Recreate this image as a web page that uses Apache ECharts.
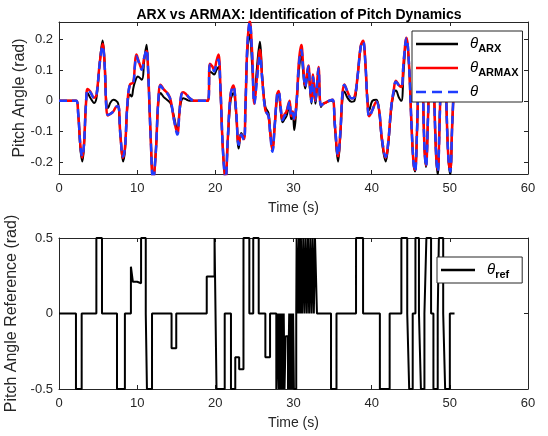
<!DOCTYPE html>
<html>
<head>
<meta charset="utf-8">
<script src="https://cdn.jsdelivr.net/npm/echarts@6/dist/echarts.min.js"></script>
<style>
    html, body { margin: 0; padding: 0; background: #fff; }
    #chart { width: 548px; height: 436px; }
</style>
</head>
<body>
<div id="chart"></div>
<script>
(function () {
    'use strict';

    // x ticks shared by both panels
    var timeTicks = [0, 10, 20, 30, 40, 50, 60];

    // measured pitch angle theta [t (s), rad]
    var theta = [
        [0, 0], [2.2, 0], [2.45, -0.04], [2.75, -0.15], [2.98, -0.181], [3.2, -0.14], [3.45, -0.01],
        [3.66, 0.036], [4.0, 0.028], [4.5, 0.009], [4.8, 0.02], [5.2, 0.12], [5.58, 0.178], [5.85, 0.11],
        [6.05, -0.02], [6.25, -0.046], [6.6, -0.042], [6.94, -0.035], [7.3, -0.02], [7.58, -0.018],
        [7.85, -0.11], [8.2, -0.181], [8.45, -0.15], [8.75, -0.01], [9.07, 0.052], [9.5, 0.058],
        [9.7, 0.11], [9.9, 0.145], [10.2, 0.125], [10.6, 0.101], [10.9, 0.14], [11.2, 0.166], [11.4, 0.1],
        [11.7, -0.1], [12.05, -0.26], [12.4, -0.16], [12.7, 0.0], [13.0, 0.05], [13.4, 0.035],
        [13.96, 0.02], [14.3, 0.0], [14.7, -0.06], [15.15, -0.11], [15.4, -0.04], [15.65, 0.02],
        [15.9, 0.025], [16.3, 0.02], [16.7, 0.009], [17.3, 0.0], [19.07, 0.0], [19.3, 0.117], [19.6, 0.11],
        [19.85, 0.096], [20.15, 0.12], [20.4, 0.134], [20.65, 0.04], [20.95, -0.15], [21.3, -0.26],
        [21.6, -0.12], [21.95, 0.02], [22.3, 0.047], [22.65, -0.03], [23.0, -0.143], [23.3, -0.11],
        [23.65, -0.127], [23.85, -0.02], [24.1, 0.18], [24.4, 0.255], [24.7, 0.15], [25.0, -0.01],
        [25.3, 0.06], [25.7, 0.145], [26.0, 0.07], [26.4, -0.03], [26.8, -0.05], [27.0, -0.1],
        [27.3, -0.166], [27.6, -0.08], [27.9, 0.02], [28.1, 0.03], [28.35, -0.02], [28.6, -0.063],
        [28.85, -0.05], [29.1, -0.041], [29.3, -0.02], [29.5, -0.003], [29.7, -0.052], [29.9, -0.04],
        [30.1, -0.063], [30.4, 0.0], [30.7, 0.12], [31.0, 0.165], [31.25, 0.1], [31.5, 0.046],
        [31.9, 0.111], [32.1, 0.05], [32.3, -0.003], [32.5, 0.078], [32.8, 0.0], [33.0, 0.05],
        [33.2, 0.105], [33.5, -0.015], [33.8, -0.01], [34.2, -0.005], [34.6, 0.0], [35.0, 0.003],
        [35.3, -0.08], [35.7, -0.177], [36.0, -0.1], [36.25, 0.02], [36.5, 0.051], [36.9, 0.03],
        [37.4, 0.008], [37.8, 0.012], [38.2, 0.08], [38.6, 0.175], [38.9, 0.192], [39.2, 0.12],
        [39.45, 0.0], [39.7, -0.052], [40.1, -0.03], [40.6, -0.003], [40.95, -0.03], [41.3, -0.12],
        [41.8, -0.182], [42.1, -0.14], [42.5, -0.02], [42.8, 0.03], [43.1, 0.062], [43.5, 0.05],
        [43.8, 0.045], [44.1, 0.13], [44.45, 0.203], [44.75, 0.13], [45.1, -0.08], [45.35, -0.2],
        [45.55, -0.23], [45.8, -0.1], [46.0, 0.08], [46.25, 0.2], [46.5, 0.08], [46.75, -0.15],
        [46.95, -0.214], [47.2, -0.06], [47.45, 0.14], [47.7, 0.2], [47.95, 0.05], [48.25, -0.18],
        [48.45, -0.23], [48.7, -0.06], [48.95, 0.15], [49.2, 0.2], [49.5, 0.03], [49.8, -0.18],
        [50.05, -0.23], [50.3, -0.08], [50.6, 0.1]
    ];

    // ARMAX model output
    var armax = [
        [0, 0], [2.2, 0], [2.45, -0.04], [2.75, -0.15], [2.98, -0.185], [3.2, -0.14], [3.45, -0.01],
        [3.66, 0.038], [4.0, 0.03], [4.5, 0.01], [4.8, 0.02], [5.2, 0.12], [5.58, 0.185], [5.85, 0.11],
        [6.05, -0.02], [6.25, -0.048], [6.6, -0.042], [6.94, -0.035], [7.3, -0.02], [7.58, -0.018],
        [7.85, -0.11], [8.2, -0.185], [8.45, -0.15], [8.75, -0.01], [9.07, 0.052], [9.5, 0.06],
        [9.7, 0.115], [9.9, 0.15], [10.2, 0.128], [10.6, 0.103], [10.9, 0.14], [11.2, 0.162], [11.4, 0.1],
        [11.7, -0.1], [12.05, -0.26], [12.4, -0.16], [12.7, 0.0], [13.0, 0.052], [13.4, 0.037],
        [13.96, 0.022], [14.3, 0.0], [14.7, -0.06], [15.15, -0.105], [15.4, -0.04], [15.65, 0.02],
        [15.9, 0.028], [16.3, 0.02], [16.7, 0.009], [17.3, 0.0], [19.07, 0.0], [19.3, 0.12], [19.6, 0.112],
        [19.85, 0.1], [20.15, 0.13], [20.4, 0.15], [20.65, 0.05], [20.95, -0.15], [21.3, -0.26],
        [21.6, -0.12], [21.95, 0.02], [22.3, 0.05], [22.65, -0.03], [23.0, -0.14], [23.3, -0.11],
        [23.65, -0.125], [23.85, -0.02], [24.1, 0.18], [24.4, 0.26], [24.7, 0.16], [25.0, -0.01],
        [25.3, 0.07], [25.7, 0.165], [26.0, 0.07], [26.4, -0.03], [26.8, -0.05], [27.0, -0.1],
        [27.3, -0.16], [27.6, -0.08], [27.9, 0.02], [28.1, 0.032], [28.35, -0.02], [28.6, -0.06],
        [28.85, -0.045], [29.1, -0.035], [29.3, -0.015], [29.5, 0.0], [29.7, -0.05], [29.9, -0.035],
        [30.1, -0.06], [30.4, 0.0], [30.7, 0.13], [31.0, 0.181], [31.25, 0.11], [31.5, 0.05],
        [31.9, 0.115], [32.1, 0.05], [32.3, 0.0], [32.5, 0.085], [32.8, 0.0], [33.0, 0.05],
        [33.2, 0.11], [33.5, -0.015], [33.8, -0.01], [34.2, -0.005], [34.6, 0.0], [35.0, 0.003],
        [35.3, -0.08], [35.7, -0.18], [36.0, -0.1], [36.25, 0.02], [36.5, 0.053], [36.9, 0.03],
        [37.4, 0.008], [37.8, 0.012], [38.2, 0.08], [38.6, 0.178], [38.9, 0.195], [39.2, 0.12],
        [39.45, 0.0], [39.7, -0.05], [40.1, -0.03], [40.6, -0.003], [40.95, -0.03], [41.3, -0.12],
        [41.8, -0.185], [42.1, -0.14], [42.5, -0.02], [42.8, 0.03], [43.1, 0.065], [43.5, 0.05],
        [43.8, 0.045], [44.1, 0.13], [44.45, 0.205], [44.75, 0.13], [45.1, -0.08], [45.35, -0.2],
        [45.55, -0.225], [45.8, -0.1], [46.0, 0.08], [46.25, 0.2], [46.5, 0.08], [46.75, -0.15],
        [46.95, -0.21], [47.2, -0.06], [47.45, 0.14], [47.7, 0.2], [47.95, 0.05], [48.25, -0.18],
        [48.45, -0.225], [48.7, -0.06], [48.95, 0.15], [49.2, 0.2], [49.5, 0.03], [49.8, -0.18],
        [50.05, -0.225], [50.3, -0.08], [50.6, 0.1]
    ];

    // ARX model output
    var arx = [
        [0, 0], [2.2, 0], [2.45, -0.04], [2.75, -0.16], [2.98, -0.197], [3.2, -0.15], [3.45, -0.01],
        [3.66, 0.025], [4.0, 0.01], [4.5, -0.007], [4.8, 0.01], [5.2, 0.12], [5.58, 0.196], [5.85, 0.12],
        [6.05, 0.0], [6.25, -0.024], [6.6, -0.005], [6.94, 0.003], [7.3, 0.0], [7.58, -0.01],
        [7.85, -0.11], [8.2, -0.197], [8.45, -0.16], [8.75, -0.02], [9.07, 0.02], [9.3, 0.014],
        [9.5, 0.04], [9.7, 0.06], [10.1, 0.079], [10.6, 0.068], [10.9, 0.13], [11.2, 0.182], [11.4, 0.1],
        [11.7, -0.1], [12.05, -0.26], [12.4, -0.16], [12.7, -0.01], [13.0, 0.025], [13.4, 0.012],
        [13.96, 0.0], [14.3, -0.01], [14.7, -0.05], [15.15, -0.095], [15.4, -0.04], [15.65, 0.0],
        [15.9, 0.008], [16.3, 0.004], [16.7, 0.0], [17.3, 0.0], [19.07, 0.0], [19.3, 0.096], [19.6, 0.09],
        [19.85, 0.085], [20.15, 0.1], [20.4, 0.11], [20.65, 0.03], [20.95, -0.15], [21.3, -0.26],
        [21.6, -0.13], [21.95, 0.0], [22.3, 0.025], [22.65, -0.04], [23.0, -0.155], [23.3, -0.105],
        [23.65, -0.12], [23.85, -0.02], [24.1, 0.16], [24.4, 0.215], [24.7, 0.12], [25.0, 0.0],
        [25.3, 0.1], [25.7, 0.192], [26.0, 0.08], [26.4, -0.02], [26.8, -0.04], [27.0, -0.09],
        [27.3, -0.16], [27.6, -0.08], [27.9, 0.01], [28.1, 0.02], [28.35, -0.03], [28.6, -0.07],
        [28.85, -0.06], [29.1, -0.05], [29.3, -0.03], [29.5, -0.01], [29.7, -0.06], [29.9, -0.05],
        [30.1, -0.095], [30.4, -0.01], [30.7, 0.1], [31.0, 0.15], [31.25, 0.09], [31.5, 0.04],
        [31.9, 0.1], [32.1, 0.04], [32.3, -0.01], [32.5, 0.07], [32.8, -0.01], [33.0, 0.04],
        [33.2, 0.09], [33.5, -0.02], [33.8, -0.01], [34.2, -0.005], [34.6, 0.0], [35.0, 0.0],
        [35.3, -0.09], [35.7, -0.198], [36.0, -0.11], [36.25, 0.0], [36.5, 0.03], [36.9, 0.01],
        [37.4, -0.003], [37.8, 0.0], [38.2, 0.08], [38.6, 0.175], [38.9, 0.192], [39.2, 0.12],
        [39.45, 0.01], [39.7, -0.03], [40.1, 0.0], [40.6, 0.003], [40.95, -0.03], [41.3, -0.13],
        [41.8, -0.197], [42.1, -0.15], [42.5, -0.03], [42.8, 0.02], [43.1, 0.033], [43.5, 0.01],
        [43.8, 0.0], [44.1, 0.1], [44.45, 0.195], [44.75, 0.13], [45.1, -0.08], [45.35, -0.2],
        [45.55, -0.23], [45.8, -0.1], [46.0, 0.08], [46.25, 0.2], [46.5, 0.08], [46.75, -0.15],
        [46.95, -0.215], [47.2, -0.06], [47.45, 0.14], [47.7, 0.2], [47.95, 0.05], [48.25, -0.18],
        [48.45, -0.24], [48.7, -0.06], [48.95, 0.15], [49.2, 0.2], [49.5, 0.03], [49.8, -0.18],
        [50.05, -0.24], [50.3, -0.08], [50.6, 0.1]
    ];

    // reference: [switch time (s), level held until next switch]
    var reference = [
        [0, 0], [2.17, -0.5], [2.9, 0], [4.78, 0.5], [5.5, 0], [7.42, -0.5], [8.43, 0],
        [9.2, 0.31], [9.45, 0.21], [10.0, 0.2], [10.5, 0.5], [11.1, 0], [11.25, -0.5], [11.9, 0],
        [14.4, -0.23], [15.0, 0], [18.9, 0.245], [19.9, 0.5], [20.15, -0.5], [21.2, 0],
        [22.0, -0.5], [22.55, -0.29], [23.05, -0.37], [23.6, 0.5], [24.35, 0], [24.85, 0.5],
        [25.55, 0], [26.4, -0.29], [27.0, 0],
        [27.8, -0.5], [28.0, 0], [28.1, -0.5], [28.25, 0], [28.35, -0.5], [28.5, 0], [28.6, -0.5],
        [28.75, 0], [28.85, -0.5], [29.0, -0.15], [29.3, -0.5], [29.45, 0], [29.55, -0.5],
        [29.7, 0], [29.8, -0.5], [29.95, 0], [30.05, -0.5], [30.35, 0],
        [30.4, 0.5], [30.6, 0], [30.7, 0.5], [30.85, 0], [30.95, 0.5], [31.1, 0], [31.25, 0.5],
        [31.4, 0], [31.55, 0.5], [31.7, 0], [31.85, 0.5], [32.0, 0], [32.15, 0.5], [32.3, 0],
        [32.45, 0.5], [32.6, 0], [32.75, 0.5], [33.0, 0],
        [34.8, -0.5], [35.5, 0], [38.0, 0.5], [38.9, 0], [41.05, -0.5], [42.3, 0], [43.8, 0.5],
        [44.55, 0], [44.8, -0.5], [45.25, 0], [45.6, 0.5], [46.05, 0], [46.3, -0.5], [46.75, 0],
        [47.0, 0.5], [47.6, 0], [47.9, -0.5], [48.45, 0], [48.6, 0.5], [49.15, 0], [49.4, -0.5],
        [50.0, 0], [50.6, 0]
    ];

    var subs = { ARX: 'ARX', ARMAX: 'ARMAX', theta: '', ref: 'ref' };

    var axisColor = '#262626';
    var font = "'Liberation Sans', Arial, sans-serif";
    var solidIcon = 'rect';
    var dashedIcon = 'path://M0,0h10v1h-10z M16,0h10v1h-10z M32,0h10v1h-10z';

    function xAxes(grid) {
        var base = {
            gridIndex: grid, type: 'value', min: timeTicks[0], max: timeTicks[timeTicks.length - 1],
            interval: 10,
            axisLine: { show: true, onZero: false, lineStyle: { color: axisColor, width: 1 } },
            axisTick: { show: true, inside: true, length: 4, lineStyle: { color: axisColor } },
            splitLine: { show: false }
        };
        var bottom = echarts.util.merge({
            position: 'bottom',
            axisLabel: { show: true, color: axisColor, fontSize: 13, fontFamily: font, margin: 8 },
            name: 'Time (s)', nameLocation: 'middle', nameGap: 27, nameMoveOverlap: false,
            nameTextStyle: { color: axisColor, fontSize: 14, fontFamily: font }
        }, base, false);
        var top = echarts.util.merge({ position: 'top', axisLabel: { show: false } }, base, false);
        return [bottom, top];
    }

    function yAxes(grid, min, max, interval, name, nameGap) {
        var base = {
            gridIndex: grid, type: 'value', min: min, max: max,
            axisLine: { show: true, onZero: false, lineStyle: { color: axisColor, width: 1 } },
            axisTick: { show: true, inside: true, length: 4, lineStyle: { color: axisColor } },
            splitLine: { show: false }
        };
        if (interval) {
            base.interval = interval;
        } else {
            base.splitNumber = 5;
        }
        var left = echarts.util.merge({
            position: 'left',
            axisLabel: {
                show: true, color: axisColor, fontSize: 13, fontFamily: font, margin: 6,
                showMinLabel: !!interval, showMaxLabel: !!interval,
                formatter: function (v) {
                    var r = Math.round(v * 10) / 10;
                    if (Math.abs(r - v) > 1e-6) { return ''; }
                    return String(r);
                }
            },
            name: name, nameLocation: 'middle', nameGap: nameGap, nameRotate: 90,
            nameMoveOverlap: false,
            nameTextStyle: { color: axisColor, fontSize: 16, fontFamily: font }
        }, base, false);
        var right = echarts.util.merge({ position: 'right', axisLabel: { show: false } }, base, false);
        return [left, right];
    }

    function legendText(name) {
        return '{th|θ}' + (subs[name] ? '{sub|' + subs[name] + '}' : '');
    }

    var legendRich = {
        th: { fontSize: 15, fontStyle: 'italic', fontFamily: font, color: '#000', padding: [0, 0, 0, 7] },
        sub: { fontSize: 11, fontWeight: 'bold', fontFamily: font, color: '#000', padding: [9, 0, 0, 0] }
    };

    var legendBase = {
        orient: 'vertical', selectedMode: false, z: 20,
        backgroundColor: '#fff', borderColor: axisColor, borderWidth: 1, borderRadius: 0,
        itemWidth: 42, itemHeight: 2.5, itemGap: 5, symbolKeepAspect: false,
        itemStyle: { borderWidth: 0 },
        formatter: legendText,
        textStyle: { rich: legendRich, lineHeight: 18 }
    };

    var chart = echarts.init(document.getElementById('chart'), null, { renderer: 'canvas' });

    chart.setOption({
        animation: false,
        backgroundColor: '#fff',
        title: {
            text: 'ARX vs ARMAX: Identification of Pitch Dynamics',
            left: 294, top: 3, textAlign: 'center',
            textStyle: { fontSize: 14, fontWeight: 'bold', color: '#000', fontFamily: font }
        },
        grid: [
            { left: 59, top: 22, width: 469, height: 152, containLabel: false, outerBoundsMode: 'none' },
            { left: 59, top: 238, width: 469, height: 151, containLabel: false, outerBoundsMode: 'none' }
        ],
        xAxis: xAxes(0).concat(xAxes(1)),
        yAxis: yAxes(0, -0.238, 0.256, null, 'Pitch Angle (rad)', 31)
            .concat(yAxes(1, -0.5, 0.5, 0.5, 'Pitch Angle Reference (rad)', 39)),
        legend: [
            echarts.util.merge({
                data: [
                    { name: 'ARX', icon: solidIcon },
                    { name: 'ARMAX', icon: solidIcon },
                    { name: 'theta', icon: dashedIcon }
                ],
                left: 412, top: 31, padding: [4, 4, 1, 4]
            }, legendBase, false),
            echarts.util.merge({
                data: [{ name: 'ref', icon: solidIcon }],
                left: 437, top: 257, padding: [4, 13, 3, 4], itemWidth: 34
            }, legendBase, false)
        ],
        series: [
            {
                name: 'ARX', type: 'line', xAxisIndex: 0, yAxisIndex: 0, data: arx,
                smooth: 0.4, symbol: 'none', z: 2,
                lineStyle: { color: '#000', width: 2 }, itemStyle: { color: '#000' }
            },
            {
                name: 'ARMAX', type: 'line', xAxisIndex: 0, yAxisIndex: 0, data: armax,
                smooth: 0.4, symbol: 'none', z: 3,
                lineStyle: { color: '#ff0000', width: 2.5 }, itemStyle: { color: '#ff0000' }
            },
            {
                name: 'theta', type: 'line', xAxisIndex: 0, yAxisIndex: 0, data: theta,
                smooth: 0.4, symbol: 'none', z: 4,
                lineStyle: { color: '#1f3cff', width: 2.5, type: [8, 5] }, itemStyle: { color: '#1f3cff' }
            },
            {
                name: 'ref', type: 'line', xAxisIndex: 2, yAxisIndex: 2, data: reference,
                step: 'end', symbol: 'none', z: 2,
                lineStyle: { color: '#000', width: 2 }, itemStyle: { color: '#000' }
            }
        ]
    });
})();
</script>
</body>
</html>
